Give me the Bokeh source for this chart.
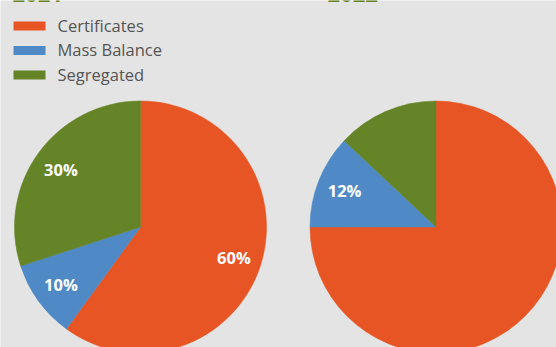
import math
from bokeh.plotting import figure
from bokeh.models import Range1d, ColumnDataSource
from bokeh.core.properties import value
from bokeh.embed import file_html
from bokeh.resources import INLINE

# ---- data ----
categories = ["Certificates", "Mass Balance", "Segregated"]
colors = ["#e85524", "#4f8ac6", "#658427"]
years = ["2021", "2022"]
shares_2021 = [60, 10, 30]
shares_2022 = [75, 12, 13]
labels_2021 = ["60%", "10%", "30%"]
labels_2022 = ["", "12%", ""]

W, H = 556, 347
BG = "#e3e4e3"

p = figure(width=W, height=H, x_range=Range1d(0, W), y_range=Range1d(0, H),
           output_backend="svg", toolbar_location=None, min_border=0)
p.axis.visible = False
p.grid.visible = False
p.outline_line_color = None
p.background_fill_color = BG
p.border_fill_color = BG

R = 126
centers = [(140, H - 226.5), (435.5, H - 226.5)]

def pie(cx, cy, shares, labels):
    total = float(sum(shares))
    cum = 0.0
    starts, ends, lx, ly = [], [], [], []
    for s in shares:
        a0 = math.pi / 2 - 2 * math.pi * cum / total
        cum += s
        a1 = math.pi / 2 - 2 * math.pi * cum / total
        starts.append(a1)
        ends.append(a0)
        mid = (a0 + a1) / 2
        lx.append(cx + 0.78 * R * math.cos(mid))
        ly.append(cy + 0.78 * R * math.sin(mid))
    src = ColumnDataSource(dict(start=starts, end=ends, color=colors,
                                lx=lx, ly=ly, label=labels))
    p.wedge(x=cx, y=cy, radius=R, start_angle="start", end_angle="end",
            direction="anticlock", fill_color="color", line_color="color",
            line_width=0.5, source=src)
    p.text(x="lx", y="ly", text="label", source=src, text_color="white",
           text_font=value("Open Sans"), text_font_style="bold",
           text_font_size="16.5px", text_align="center", text_baseline="middle")

pie(centers[0][0], centers[0][1], shares_2021, labels_2021)
pie(centers[1][0], centers[1][1], shares_2022, labels_2022)

# titles (mostly cropped at the top, as in the reference)
p.text(x=[12, 327], y=[H + 6.5, H + 6.5], text=years, text_color="#658427",
       text_font=value("Open Sans"), text_font_style="bold",
       text_font_size="22px", text_align="left", text_baseline="alphabetic")

# legend
leg_y = [H - 25.5 - 24.5 * i for i in range(len(categories))]
p.rect(x=[29] * len(categories), y=leg_y, width=32, height=9,
       fill_color=colors, line_color=None)
p.text(x=[57] * len(categories), y=[v + 1 for v in leg_y], text=categories,
       text_color="#555555", text_font=value("Open Sans"), text_font_size="16.5px",
       text_align="left", text_baseline="middle")

open("out.html", "w").write(file_html(p, INLINE))
